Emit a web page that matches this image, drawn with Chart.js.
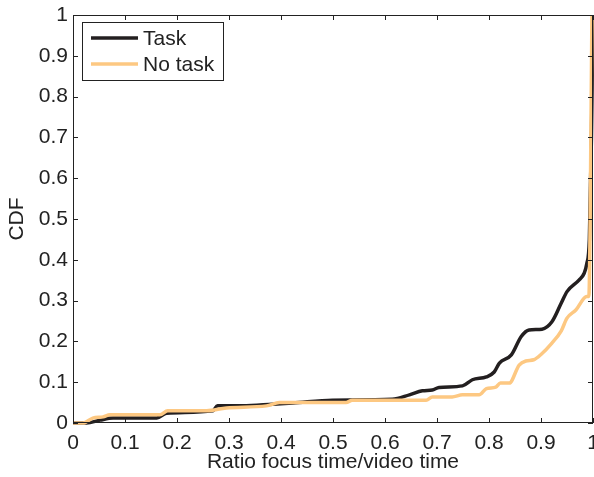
<!DOCTYPE html>
<html>
<head>
<meta charset="utf-8">
<script src="https://cdn.jsdelivr.net/npm/chart.js@4/dist/chart.umd.min.js"></script>
<style>
  html, body { margin: 0; padding: 0; background: #fff; }
  #wrap { width: 594px; height: 477px; }
</style>
</head>
<body>
<div id="wrap"><canvas id="cdfChart" width="594" height="477"></canvas></div>
<script>
// ratio of focus time to video time, one CDF per condition
var taskX = [0, 0.026, 0.052, 0.077, 0.161, 0.18, 0.269, 0.278, 0.326, 0.384, 0.423, 0.499, 0.614, 0.647, 0.672, 0.691, 0.704, 0.749, 0.768, 0.795, 0.81, 0.82, 0.843, 0.862, 0.877, 0.902, 0.921, 0.939, 0.95, 0.973, 0.983, 0.988, 0.993, 0.997, 1];
var taskY = [0, 0, 0.007, 0.012, 0.012, 0.024, 0.03, 0.042, 0.042, 0.046, 0.049, 0.056, 0.058, 0.069, 0.079, 0.081, 0.087, 0.091, 0.106, 0.113, 0.125, 0.147, 0.167, 0.212, 0.228, 0.23, 0.248, 0.294, 0.322, 0.35, 0.367, 0.39, 0.45, 0.7, 1];

var noTaskX = [0, 0.019, 0.038, 0.058, 0.071, 0.167, 0.182, 0.257, 0.295, 0.372, 0.397, 0.525, 0.537, 0.679, 0.691, 0.729, 0.749, 0.781, 0.795, 0.813, 0.822, 0.839, 0.858, 0.871, 0.886, 0.9, 0.921, 0.939, 0.95, 0.967, 0.988, 0.992, 0.998];
var noTaskY = [0, 0, 0.012, 0.015, 0.02, 0.02, 0.03, 0.03, 0.037, 0.042, 0.05, 0.05, 0.056, 0.056, 0.064, 0.064, 0.069, 0.069, 0.084, 0.088, 0.098, 0.098, 0.142, 0.152, 0.155, 0.168, 0.196, 0.226, 0.257, 0.277, 0.31, 0.31, 1];

var tickVals = [0, 0.1, 0.2, 0.3, 0.4, 0.5, 0.6, 0.7, 0.8, 0.9, 1];

var FONT = 'Liberation Sans, Arial, sans-serif';

function pts(xs, ys) {
    return xs.map(function (x, i) { return { x: x, y: ys[i] }; });
}

// box around the axes with inward ticks on every side
var boxPlugin = {
    id: 'boxTicks',
    afterDraw: function (chart) {
        var c = chart.ctx, a = chart.chartArea;
        var xs = chart.scales.x, ys = chart.scales.y;
        var len = 5;
        c.save();
        c.strokeStyle = '#222';
        c.lineWidth = 1;
        c.strokeRect(a.left + 0.5, a.top + 0.5, a.right - a.left - 1, a.bottom - a.top - 1);
        c.beginPath();
        tickVals.forEach(function (v) {
            var px = Math.round(xs.getPixelForValue(v)) + 0.5;
            c.moveTo(px, a.bottom); c.lineTo(px, a.bottom - len);
            c.moveTo(px, a.top); c.lineTo(px, a.top + len);
            var py = Math.round(ys.getPixelForValue(v)) + 0.5;
            c.moveTo(a.left, py); c.lineTo(a.left + len, py);
            c.moveTo(a.right, py); c.lineTo(a.right - len, py);
        });
        c.stroke();

        // legend inside the axes, top-left
        var lx = 82.5, ly = 22.5, lw = 141, lh = 58;
        c.fillStyle = '#fff';
        c.fillRect(lx, ly, lw, lh);
        c.strokeStyle = '#222';
        c.strokeRect(lx, ly, lw, lh);
        c.font = '21px ' + FONT;
        c.textBaseline = 'middle';
        var rows = [chart.data.datasets[0], chart.data.datasets[1]];
        rows.forEach(function (ds, i) {
            var y = 38 + i * 26;
            c.strokeStyle = ds.borderColor;
            c.lineWidth = 3.5;
            c.beginPath();
            c.moveTo(91, y); c.lineTo(138, y);
            c.stroke();
            c.fillStyle = '#222';
            c.fillText(ds.label, 143, y + 1);
        });
        c.restore();
    }
};

var ctx = document.getElementById('cdfChart');
var chart = new Chart(ctx, {
    type: 'scatter',
    data: {
        datasets: [{
            label: 'Task',
            data: pts(taskX, taskY),
            borderColor: '#231f20',
            borderWidth: 3.5,
            showLine: true,
            pointRadius: 0,
            clip: 3,
            cubicInterpolationMode: 'monotone',
            order: 1
        }, {
            label: 'No task',
            data: pts(noTaskX, noTaskY),
            borderColor: '#fdc882',
            borderWidth: 3.5,
            showLine: true,
            pointRadius: 0,
            clip: 3,
            cubicInterpolationMode: 'monotone',
            order: 0
        }]
    },
    options: {
        responsive: false,
        animation: false,
        events: [],
        layout: { padding: { top: 15, right: 1, left: 0, bottom: 0 } },
        plugins: { legend: { display: false }, tooltip: { enabled: false } },
        scales: {
            x: {
                type: 'linear', min: 0, max: 1,
                afterBuildTicks: function (s) { s.ticks = tickVals.map(function (v) { return { value: v }; }); },
                afterFit: function (s) { s.height = 54; s.paddingRight = 0; s.paddingLeft = 0; },
                grid: { display: false, drawTicks: false },
                border: { display: false },
                ticks: {
                    color: '#222', padding: 8, maxRotation: 0, autoSkip: false,
                    font: { family: FONT, size: 21 },
                    callback: function (v) { return String(Number(v.toFixed(1))); }
                },
                title: { display: true, text: 'Ratio focus time/video time', color: '#222', padding: { top: 0, bottom: 2 }, font: { family: FONT, size: 21 } }
            },
            y: {
                type: 'linear', min: 0, max: 1,
                afterBuildTicks: function (s) { s.ticks = tickVals.map(function (v) { return { value: v }; }); },
                afterFit: function (s) { s.width = 73; s.paddingTop = 0; s.paddingBottom = 0; },
                grid: { display: false, drawTicks: false },
                border: { display: false },
                ticks: {
                    color: '#222', padding: 5, autoSkip: false,
                    font: { family: FONT, size: 21 },
                    callback: function (v) { return String(Number(v.toFixed(1))); }
                },
                title: { display: true, text: 'CDF', color: '#222', padding: { top: 5, bottom: 0 }, font: { family: FONT, size: 21 } }
            }
        }
    },
    plugins: [boxPlugin]
});
</script>
</body>
</html>
